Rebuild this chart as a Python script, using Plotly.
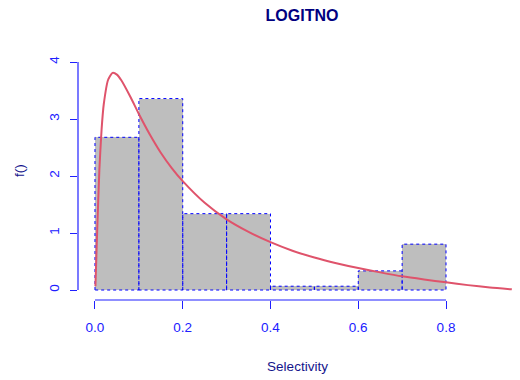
import plotly.graph_objects as go

# Histogram of selectivity (density scale), bin width 0.1
bin_left = [0.0, 0.1, 0.2, 0.3, 0.4, 0.5, 0.6, 0.7]
bin_width = 0.1
density = [2.68, 3.36, 1.34, 1.34, 0.067, 0.067, 0.336, 0.805]

# Fitted logit-normal density curve
curve_x = [0.001, 0.005, 0.01, 0.015, 0.02, 0.03, 0.04, 0.05, 0.06, 0.08,
           0.1, 0.125, 0.15, 0.175, 0.2, 0.25, 0.3, 0.35, 0.4, 0.45,
           0.5, 0.55, 0.6, 0.65, 0.7, 0.75, 0.8, 0.85, 0.9, 0.95]
curve_y = [0.065, 1.03, 2.11, 2.81, 3.26, 3.69, 3.81, 3.78, 3.68, 3.40,
           3.09, 2.73, 2.41, 2.14, 1.91, 1.53, 1.24, 1.02, 0.84, 0.69,
           0.57, 0.47, 0.385, 0.31, 0.24, 0.185, 0.135, 0.086, 0.045, 0.013]

x_ticks = [0.0, 0.2, 0.4, 0.6, 0.8]
x_tick_text = ["0.0", "0.2", "0.4", "0.6", "0.8"]
y_ticks = [0, 1, 2, 3, 4]

BLUE = "#2020ff"
NAVY = "#14148c"
FONT = "Liberation Sans, Arial, sans-serif"
LABEL_SIZE = 13.5

fig = go.Figure()

centers = [l + bin_width / 2 for l in bin_left]
fig.add_trace(go.Bar(
    x=centers, y=density, width=bin_width,
    marker=dict(color="#BEBEBE", line=dict(width=0)),
    hoverinfo="skip", showlegend=False,
))

# dotted blue outlines around every bar
ox, oy = [], []
for l, h in zip(bin_left, density):
    r = l + bin_width
    ox += [l, l, r, r, l, None]
    oy += [0, h, h, 0, 0, None]
fig.add_trace(go.Scatter(
    x=ox, y=oy, mode="lines",
    line=dict(color="#0000ff", width=1, dash="dot"),
    hoverinfo="skip", showlegend=False,
))

fig.add_trace(go.Scatter(
    x=curve_x, y=curve_y, mode="lines",
    line=dict(color="#DF536B", width=2, shape="spline", smoothing=0.6),
    hoverinfo="skip", showlegend=False,
))

# R-style axis lines spanning only the tick range
fig.add_shape(type="line", xref="x", yref="paper",
              x0=x_ticks[0], x1=x_ticks[-1], y0=0, y1=0,
              line=dict(color=BLUE, width=1.2))
fig.add_shape(type="line", xref="paper", yref="y",
              x0=0, x1=0, y0=y_ticks[0], y1=y_ticks[-1],
              line=dict(color=BLUE, width=1.2))

fig.update_layout(
    width=520, height=380,
    margin=dict(l=78, r=3, t=41, b=80),
    paper_bgcolor="white", plot_bgcolor="white",
    bargap=0,
    font=dict(family=FONT, size=LABEL_SIZE, color=BLUE),
    title=dict(text="<b>LOGITNO</b>", xref="container", x=302 / 520,
               xanchor="center", yref="container", y=1 - 15 / 380,
               yanchor="middle",
               font=dict(family=FONT, size=16, color="#000080")),
    xaxis=dict(
        range=[-0.0387, 0.9618], showgrid=False, zeroline=False,
        showline=False, tickvals=x_ticks, ticktext=x_tick_text,
        ticks="outside", ticklen=8, tickcolor=BLUE, tickwidth=1.2,
        ticklabelstandoff=7,
        tickfont=dict(family=FONT, size=LABEL_SIZE, color=BLUE),
        title=dict(text="Selectivity", standoff=27,
                   font=dict(family=FONT, size=LABEL_SIZE, color=NAVY)),
    ),
    yaxis=dict(
        range=[-0.175, 4.37], showgrid=False, zeroline=False,
        showline=False, tickvals=y_ticks, tickangle=-90,
        ticks="outside", ticklen=7, tickcolor=BLUE, tickwidth=1.2,
        ticklabelstandoff=6,
        tickfont=dict(family=FONT, size=LABEL_SIZE, color=BLUE),
        title=dict(text="f()", standoff=18,
                   font=dict(family=FONT, size=LABEL_SIZE, color=NAVY)),
    ),
)

fig.write_html("out.html")
